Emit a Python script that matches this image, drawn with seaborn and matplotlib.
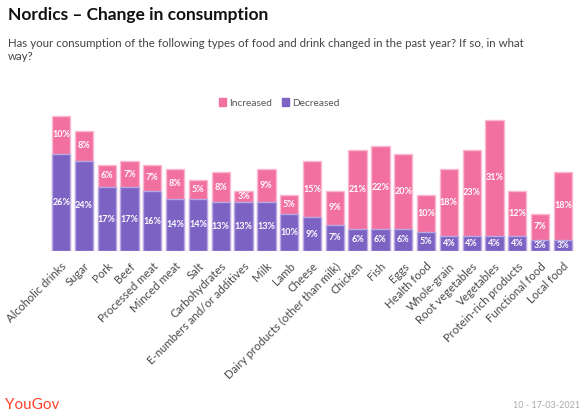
import numpy as np
import pandas as pd
import matplotlib
matplotlib.use("Agg")
import matplotlib.pyplot as plt
import seaborn as sns
from matplotlib.patches import Patch

# DATA
categories = ['Alcoholic drinks', 'Sugar', 'Pork', 'Beef', 'Processed meat', 'Minced meat',
              'Salt', 'Carbohydrates', 'E-numbers and/or additives', 'Milk', 'Lamb', 'Cheese',
              'Dairy products (other than milk)', 'Chicken', 'Fish', 'Eggs', 'Health food',
              'Whole-grain', 'Root vegetables', 'Vegetables', 'Protein-rich products',
              'Functional food', 'Local food']
decreased = [26, 24, 17, 17, 16, 14, 14, 13, 13, 13, 10, 9, 7, 6, 6, 6, 5, 4, 4, 4, 4, 3, 3]
increased = [10, 8, 6, 7, 7, 8, 5, 8, 3, 9, 5, 15, 9, 21, 22, 20, 10, 18, 23, 31, 12, 7, 18]

df = pd.DataFrame({'category': categories, 'decreased': decreased, 'increased': increased})
df['total'] = df['decreased'] + df['increased']

pink = '#f270a0'
purple = '#7b62c3'

sns.set_style('white')
plt.rcParams['font.family'] = ['Lato', 'DejaVu Sans']

fig = plt.figure(figsize=(5.87, 4.16), dpi=100)
ax = fig.add_axes([49.7 / 587, 1 - 251 / 416, (574.3 - 49.7) / 587, 142.5 / 416])

# stacked: totals in pink, decreased drawn over in purple
sns.barplot(data=df, x='category', y='total', color=pink, saturation=1, width=0.8,
            edgecolor='#f9b9d0', linewidth=1, ax=ax)
sns.barplot(data=df, x='category', y='decreased', color=purple, saturation=1, width=0.8,
            edgecolor='#b7a9e3', linewidth=1, ax=ax)

for i, row in df.iterrows():
    ax.text(i, row['decreased'] / 2, f"{row['decreased']}%", ha='center', va='center',
            color='white', fontsize=6.5, fontweight='bold')
    ax.text(i, row['decreased'] + row['increased'] / 2, f"{row['increased']}%", ha='center',
            va='center', color='white', fontsize=6.5, fontweight='bold')

ax.set_ylim(0, 38)
ax.set_xlim(-0.5, len(categories) - 0.5)
ax.set_xlabel('')
ax.set_ylabel('')
ax.set_yticks([])
ax.tick_params(axis='x', length=0, pad=7)
plt.setp(ax.get_xticklabels(), rotation=45, ha='right', rotation_mode='anchor',
         fontsize=8.2, color='#4a4a4a')
sns.despine(ax=ax, left=True, bottom=True)

handles = [Patch(color=pink, label='Increased'), Patch(color=purple, label='Decreased')]
fig.legend(handles=handles, loc='center', bbox_to_anchor=(279 / 587, 1 - 103 / 416), ncol=2,
           frameon=False, fontsize=7.3, handlelength=0.7, handleheight=0.7, handletextpad=0.3,
           columnspacing=1.0, labelcolor='#555555')

fig.text(8 / 587, 1 - 15 / 416, 'Nordics – Change in consumption', fontsize=12.5,
         fontweight='bold', va='center', color='#111111')
fig.text(8 / 587, 1 - 38 / 416,
         'Has your consumption of the following types of food and drink changed in the past year? If so, in what\nway?',
         fontsize=8.3, va='top', color='#444444', linespacing=1.25)
fig.text(5 / 587, 1 - 405 / 416, 'YouGov', fontsize=11, color='#ff412c', va='center')
fig.text(580 / 587, 1 - 405 / 416, '10 - 17-03-2021', fontsize=6.5, color='#aaaaaa',
         va='center', ha='right')

fig.savefig('out.png', dpi=100)
